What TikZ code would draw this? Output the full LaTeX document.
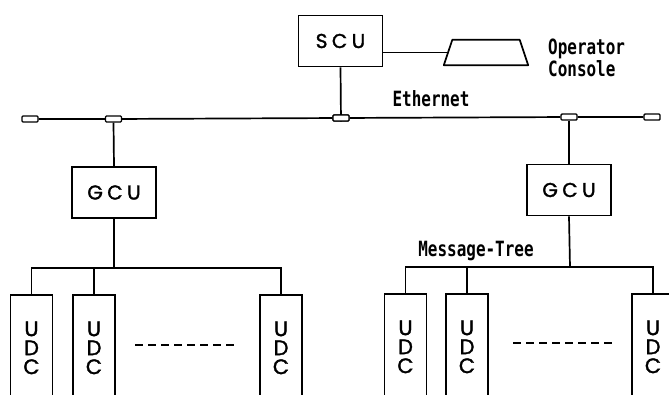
\documentclass[tikz,border=0pt]{standalone}
\usepackage{fontspec}
\newfontfamily\boxfont[LetterSpace=22, FakeBold=1.6]{Poppins}
\newfontfamily\udcfont[FakeBold=1.6]{Poppins}
\newfontfamily\lblfont[FakeStretch=0.76]{DejaVu Sans Mono Bold}
\tikzset{
  unit/.style={draw, line width=1.7pt, minimum width=84pt, minimum height=51pt, inner sep=0pt,
    font=\boxfont\fontsize{20}{22}\selectfont},
  udc/.style={draw, line width=1.7pt, minimum width=42pt, minimum height=106pt, inner sep=0pt,
    align=center, font=\udcfont\fontsize{21}{19}\selectfont},
  tap/.style={draw, line width=1.4pt, fill=white, rounded corners=1pt, minimum width=16pt, minimum height=6pt, inner sep=0pt},
  lbl/.style={font=\lblfont\fontsize{21}{18}\selectfont, inner sep=0pt},
  wire/.style={line width=1.7pt},
  dots/.style={line width=1.5pt, dash pattern=on 8pt off 5pt}
}
\begin{document}
\begin{tikzpicture}[x=1pt, y=-1pt]
\useasboundingbox (0,0) rectangle (669,394);
\clip (0,0) rectangle (669,394);
\fill[white] (0,0) rectangle (669,394);
% top
\node[unit] (scu) at (340.5,41) {SCU};
\node[minimum width=84pt, minimum height=25pt, inner sep=0pt] (console) at (486,52.5) {};
\draw[wire, line join=round] (console.south west) -- (console.south east) -- ([xshift=-8.5pt]console.north east)
  -- ([xshift=8.5pt]console.north west) -- cycle;
\draw[wire] (scu.east |- console) -- ([xshift=4.25pt]console.west);
\node[lbl, align=left, anchor=west] (oplbl) at (548,58) {Operator\\Console};
\node[lbl] (ethlbl) at (431,99) {Ethernet};
% ethernet
\node[tap] (le) at (30,119) {};
\node[tap] (t1) at (113.5,119) {};
\node[tap] (t2) at (341,118) {};
\node[tap] (t3) at (569,117) {};
\node[tap] (re) at (652,117) {};
\draw[wire] (le) -- (t1) -- (t2) -- (t3) -- (re);
\draw[wire] (scu.south) -- (t2.south);
\node[tap] at (t2) {};
% GCUs
\node[unit] (gcu1) at (114,192.5) {GCU};
\node[unit] (gcu2) at (569,190) {GCU};
\draw[wire] (t1.south) -- (gcu1.north);
\draw[wire] (t3.south) -- (gcu2.north);
% left tree
\node[udc, anchor=north] (u11) at (31.5,294) {U\\D\\C};
\node[udc, anchor=north] (u12) at (94,294) {U\\D\\C};
\node[udc, anchor=north] (u13) at (281,294) {U\\D\\C};
\coordinate (b1) at (114,268);
\draw[wire] (gcu1.south) -- (b1);
\draw[wire] (u11.north) |- (b1) -| (u13.north);
\draw[wire] (u12.north) -- (u12.north |- b1);
\coordinate (d1a) at (135,345);
\coordinate (d1b) at (238,345);
\draw[dots] (d1a) -- (d1b);
% right tree
\node[udc, anchor=north] (u21) at (405.5,293) {U\\D\\C};
\node[udc, anchor=north] (u22) at (467,293) {U\\D\\C};
\node[udc, anchor=north] (u23) at (653,293) {U\\D\\C};
\coordinate (b2) at (570,267);
\draw[wire] (gcu2.south) -- (b2);
\draw[wire] (u21.north) |- (b2) -| (u23.north);
\draw[wire] (u22.north) -- (u22.north |- b2);
\node[lbl] (mtlbl) at (476,251) {Message-Tree};
\coordinate (d2a) at (513,343);
\coordinate (d2b) at (613,343);
\draw[dots] (d2a) -- (d2b);
\end{tikzpicture}
\end{document}
